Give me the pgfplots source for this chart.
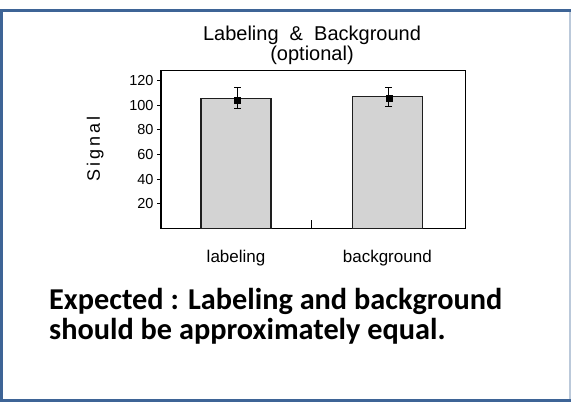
\documentclass[border=0pt]{standalone}
\usepackage{fontspec}
\setmainfont{Liberation Sans}
\newfontfamily\carlito{Carlito}
\usepackage{pgfplots}
\pgfplotsset{compat=1.18}
\definecolor{frameblue}{RGB}{62,100,150}
\definecolor{barfill}{RGB}{211,211,211}
\definecolor{bardraw}{RGB}{30,30,30}
\begin{document}
\begin{tikzpicture}
\useasboundingbox (0bp,0bp) rectangle (571bp,402bp);
\fill[white] (0bp,0bp) rectangle (571bp,402bp);
\draw[frameblue!35, line width=1.5bp] (570bp,1.7bp) -- (570bp,391.5bp);
\draw[frameblue, line width=3bp] (571bp,391.5bp) -- (1.5bp,391.5bp) -- (1.5bp,1.7bp) -- (571bp,1.7bp);
\begin{axis}[
  at={(161bp,173.6bp)}, anchor=south west,
  scale only axis, width=304.5bp, height=157.5bp,
  xmin=-0.496, xmax=1.517, ymin=0, ymax=128,
  axis line style={line width=1.2bp, black},
  /pgf/number format/assume math mode=true,
  ytick={20,40,60,80,100,120},
  ytick pos=left, tick align=outside, major tick length=4bp,
  y tick style={line width=1bp, black},
  yticklabel style={font=\fontsize{14.5bp}{14.5bp}\selectfont},
  xtick={0,1}, xticklabels={labeling,background},
  xtick pos=bottom,
  x tick style={draw=none},
  xticklabel style={anchor=base, yshift=-29.9bp, font=\fontsize{17bp}{17bp}\selectfont},
  extra x ticks={0.5}, extra x tick labels={},
  extra x tick style={x tick style={draw=black, line width=1bp}, major tick length=8bp, tick align=inside},
  clip=false,
]
\addplot[ybar, bar width=0.463, fill=barfill, draw=bardraw, line width=1.2bp] coordinates {(0,105.6) (1,107.4)};
\addplot[only marks, mark=square*, mark size=3bp, black,
  error bars/.cd, y dir=both, y explicit,
  error bar style={line width=1bp, black},
  error mark options={rotate=90, mark size=3.5bp, line width=1bp, black}]
  coordinates {(0.01,104.0) += (0,10.9) -= (0,6.5) (1.01,106.1) += (0,8.8) -= (0,6.7)};
\end{axis}
\node[anchor=base, inner sep=0pt, font=\fontsize{20bp}{20bp}\selectfont] at (312bp,361bp) {Labeling\ \ \&\ \ Background};
\node[anchor=base, inner sep=0pt, font=\fontsize{20bp}{20bp}\selectfont] at (312bp,341.5bp) {(optional)};
\node[rotate=90, inner sep=0pt, font=\fontsize{18bp}{18bp}\selectfont] at (95.3bp,253bp) {S\kern3bp i\kern3bp g\kern3bp n\kern3bp a\kern3bp l};
\node[anchor=base west, inner sep=0pt, font=\carlito\bfseries\fontsize{30.3bp}{30.3bp}\selectfont] at (49bp,92.7bp) {Expected : Labeling and background};
\node[anchor=base west, inner sep=0pt, font=\carlito\bfseries\fontsize{30.3bp}{30.3bp}\selectfont] at (49bp,62bp) {should be approximately equal.};
\end{tikzpicture}
\end{document}
